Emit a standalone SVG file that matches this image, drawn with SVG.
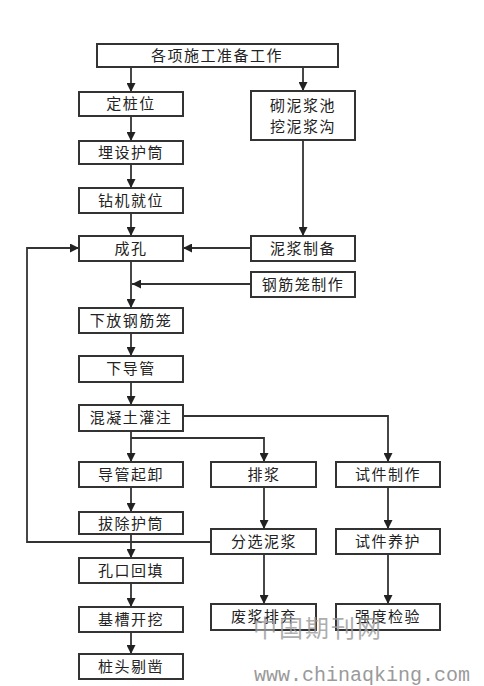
<svg xmlns="http://www.w3.org/2000/svg" width="484" height="686" viewBox="0 0 484 686">
<style>
.box rect{fill:#fff;stroke:#333;stroke-width:2}
.box text{font-family:"Noto Sans CJK SC","Noto Sans CJK TC",sans-serif;font-size:15px;fill:#222;text-anchor:middle;letter-spacing:1.5px}
.c{fill:none;stroke:#333;stroke-width:1.8}
.wm{fill:#9a9a9a}
</style>
<defs>
<marker id="ah" viewBox="0 0 10 10" refX="10" refY="5" markerWidth="9" markerHeight="9" markerUnits="userSpaceOnUse" orient="auto">
<path d="M0,0 L10,5 L0,10 z" fill="#222"/>
</marker>
</defs>
<rect x="0" y="0" width="484" height="686" fill="#fff"/>
<g id="connectors">
<path class="c" d="M131,67 V92" marker-end="url(#ah)"/>
<path class="c" d="M303,67 V91" marker-end="url(#ah)"/>
<path class="c" d="M131,116 V141" marker-end="url(#ah)"/>
<path class="c" d="M131,164 V188" marker-end="url(#ah)"/>
<path class="c" d="M131,213 V236" marker-end="url(#ah)"/>
<path class="c" d="M303,140 V236" marker-end="url(#ah)"/>
<path class="c" d="M251,248 H183" marker-end="url(#ah)"/>
<path class="c" d="M251,284 H132" marker-end="url(#ah)"/>
<path class="c" d="M131,261 V308" marker-end="url(#ah)"/>
<path class="c" d="M131,333 V356" marker-end="url(#ah)"/>
<path class="c" d="M131,382 V405" marker-end="url(#ah)"/>
<path class="c" d="M183,416 H388 V462" marker-end="url(#ah)"/>
<path class="c" d="M131,431 V462" marker-end="url(#ah)"/>
<path class="c" d="M131,438 H264 V462" marker-end="url(#ah)"/>
<path class="c" d="M131,487 V512" marker-end="url(#ah)"/>
<path class="c" d="M264,487 V529" marker-end="url(#ah)"/>
<path class="c" d="M388,487 V529" marker-end="url(#ah)"/>
<path class="c" d="M131,534 V558" marker-end="url(#ah)"/>
<path class="c" d="M211,542 H27 V248 H79" marker-end="url(#ah)"/>
<path class="c" d="M131,583 V607" marker-end="url(#ah)"/>
<path class="c" d="M264,554 V604" marker-end="url(#ah)"/>
<path class="c" d="M388,554 V604" marker-end="url(#ah)"/>
<path class="c" d="M131,632 V654" marker-end="url(#ah)"/>
</g>
<g id="n1" class="box"><rect x="97" y="44" width="241" height="23"/><text x="217" y="61">各项施工准备工作</text></g>
<g id="n2" class="box"><rect x="79" y="92" width="104" height="24"/><text x="131" y="109">定桩位</text></g>
<g id="n3" class="box"><rect x="251" y="91" width="104" height="49"/><text x="303" y="111">砌泥浆池</text><text x="303" y="132">挖泥浆沟</text></g>
<g id="n4" class="box"><rect x="79" y="141" width="104" height="23"/><text x="131" y="158">埋设护筒</text></g>
<g id="n5" class="box"><rect x="79" y="188" width="104" height="25"/><text x="131" y="206">钻机就位</text></g>
<g id="n6" class="box"><rect x="79" y="236" width="104" height="25"/><text x="131" y="254">成孔</text></g>
<g id="n7" class="box"><rect x="251" y="236" width="104" height="25"/><text x="303" y="254">泥浆制备</text></g>
<g id="n8" class="box"><rect x="251" y="272" width="104" height="25"/><text x="303" y="290">钢筋笼制作</text></g>
<g id="n9" class="box"><rect x="79" y="308" width="104" height="25"/><text x="131" y="326">下放钢筋笼</text></g>
<g id="n10" class="box"><rect x="79" y="356" width="104" height="26"/><text x="131" y="374">下导管</text></g>
<g id="n11" class="box"><rect x="79" y="405" width="104" height="26"/><text x="131" y="423">混凝土灌注</text></g>
<g id="n12" class="box"><rect x="79" y="462" width="104" height="25"/><text x="131" y="480">导管起卸</text></g>
<g id="n13" class="box"><rect x="211" y="462" width="105" height="25"/><text x="264" y="480">排浆</text></g>
<g id="n14" class="box"><rect x="336" y="462" width="104" height="25"/><text x="388" y="480">试件制作</text></g>
<g id="n15" class="box"><rect x="79" y="512" width="104" height="22"/><text x="131" y="529">拔除护筒</text></g>
<g id="n16" class="box"><rect x="211" y="529" width="105" height="25"/><text x="264" y="547">分选泥浆</text></g>
<g id="n17" class="box"><rect x="336" y="529" width="104" height="25"/><text x="388" y="547">试件养护</text></g>
<g id="n18" class="box"><rect x="79" y="558" width="104" height="25"/><text x="131" y="576">孔口回填</text></g>
<g id="n19" class="box"><rect x="79" y="607" width="104" height="25"/><text x="131" y="625">基槽开挖</text></g>
<g id="n20" class="box"><rect x="211" y="604" width="105" height="26"/><text x="264" y="622">废浆排弃</text></g>
<g id="n21" class="box"><rect x="336" y="604" width="104" height="26"/><text x="388" y="622">强度检验</text></g>
<g id="n22" class="box"><rect x="79" y="654" width="104" height="25"/><text x="131" y="672">桩头剔凿</text></g>
<g id="watermark">
<text class="wm" x="318" y="637" font-family="'Noto Sans CJK SC',sans-serif" font-size="24" text-anchor="middle" letter-spacing="2" opacity="0.8">中国期刊网</text>
<text class="wm" x="254" y="681" font-family="'Liberation Mono',monospace" font-size="20">www.chinaqking.com</text>
</g>
</svg>
